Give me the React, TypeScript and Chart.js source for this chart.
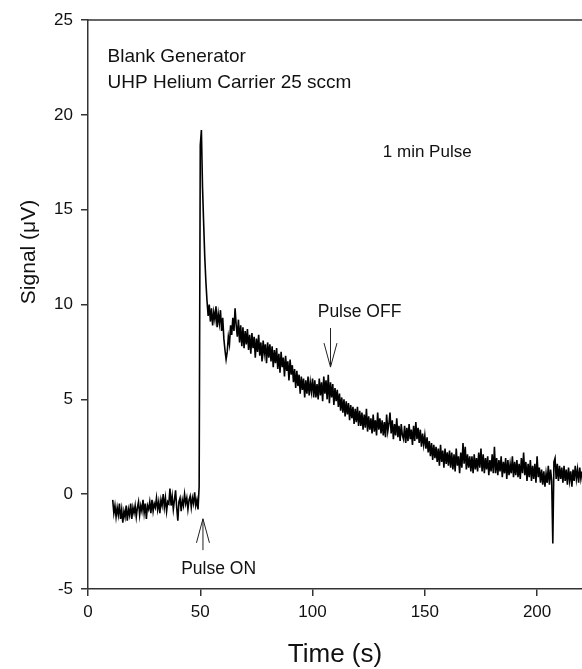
import React, { useEffect, useRef } from "react";
import { Chart, registerables } from "chart.js";

Chart.register(...registerables);

// Time axis: samples every 0.5 s starting at 11 s
const TIME_START = 11;
const TIME_STEP = 0.5;

// Signal (µV)
const SIGNAL: number[] = [
  // 11 – 20.5 s
  -0.3, -1.0, -0.6, -1.2, -0.7, -1.1, -0.5, -1.3, -0.8, -1.5, -0.9, -1.2, -0.6, -1.4, -0.8, -1.1, -0.5, -1.3, -0.7, -1.0,
  // 21 – 30.5 s
  -0.6, -1.2, -0.7, -0.4, -1.1, -0.6, -0.9, -0.3, -1.0, -0.5, -1.3, -0.6, -0.8, -0.4, -1.0, -0.3, -0.9, -0.5, -0.7, -0.2,
  // 31 – 40.5 s
  -0.8, -0.4, -1.0, -0.3, -0.6, 0.0, -0.7, -0.2, -0.9, -0.4, -0.5, 0.3, -0.6, -0.1, -0.8, -0.3, 0.2, -0.7, -1.4, -0.4,
  // 41 – 50.5 s
  -0.2, -0.9, -0.3, -0.6, 0.0, -0.5, -0.2, -0.8, -0.3, -0.1, -0.7, -0.2, -0.5, 0.1, -0.6, -0.3, -0.8, 0.4, 18.4, 19.2,
  // 51 – 60.5 s
  16.2, 14.3, 12.5, 11.2, 10.2, 9.4, 10.0, 9.1, 9.8, 8.9, 9.6, 9.2, 9.9, 8.8, 9.5, 9.0, 9.7, 8.6, 9.3, 8.2,
  // 61 – 70.5 s
  7.6, 7.1, 7.5, 8.3, 7.9, 8.9, 8.4, 9.3, 8.6, 9.8, 8.9, 8.3, 9.2, 8.0, 8.9, 7.8, 8.8, 7.7, 8.6, 7.9,
  // 71 – 80.5 s
  8.7, 7.6, 8.4, 7.4, 8.5, 7.7, 8.3, 7.2, 8.2, 7.5, 8.4, 7.3, 8.0, 7.0, 8.1, 7.4, 7.9, 6.9, 8.0, 7.2,
  // 81 – 90.5 s
  7.9, 7.0, 7.8, 6.7, 7.6, 6.9, 7.7, 6.6, 7.4, 6.4, 7.5, 6.7, 7.2, 6.2, 7.3, 6.5, 7.0, 6.0, 7.1, 6.3,
  // 91 – 100.5 s
  6.8, 5.9, 6.6, 5.6, 6.5, 5.7, 6.3, 5.3, 6.2, 5.5, 6.1, 5.1, 6.0, 5.3, 6.2, 5.2, 5.9, 5.4, 6.1, 5.1,
  // 101 – 110.5 s
  6.0, 5.1, 5.8, 5.0, 6.1, 5.2, 5.9, 4.9, 6.2, 5.3, 6.0, 5.0, 6.3, 4.8, 5.9, 5.1, 5.8, 4.7, 5.6, 4.9,
  // 111 – 120.5 s
  5.5, 4.6, 5.3, 4.4, 5.1, 4.3, 5.0, 4.1, 4.9, 4.2, 4.8, 3.9, 4.7, 4.0, 4.6, 3.7, 4.5, 3.8, 4.6, 3.6,
  // 121 – 130.5 s
  4.4, 3.6, 4.3, 3.4, 4.2, 3.5, 4.5, 3.3, 4.1, 3.4, 4.0, 3.2, 4.2, 3.3, 3.9, 3.1, 4.3, 3.4, 4.0, 3.2,
  // 131 – 140.5 s
  3.9, 3.1, 3.8, 3.0, 4.2, 3.3, 3.7, 4.3, 3.2, 3.9, 2.9, 3.7, 3.1, 4.0, 3.0, 3.6, 2.8, 3.7, 3.1, 2.9,
  // 141 – 150.5 s
  3.6, 2.7, 3.5, 2.8, 3.7, 2.9, 3.4, 2.6, 3.6, 2.8, 3.8, 2.9, 3.5, 2.7, 3.4, 2.5, 3.2, 2.6, 3.1, 2.4,
  // 151 – 160.5 s
  3.0, 2.2, 2.8, 2.0, 2.7, 1.8, 2.6, 1.9, 2.5, 1.7, 2.4, 1.5, 2.6, 1.7, 2.3, 1.4, 2.4, 1.6, 2.2, 1.5,
  // 161 – 170.5 s
  2.3, 1.4, 2.2, 1.3, 2.1, 1.2, 2.4, 1.5, 2.0, 1.1, 2.2, 1.4, 2.7, 1.6, 2.5, 1.3, 2.1, 1.4, 2.0, 1.2,
  // 171 – 180.5 s
  2.0, 1.1, 2.1, 1.3, 1.9, 1.2, 2.2, 1.4, 2.4, 1.2, 2.1, 1.1, 1.9, 1.3, 2.0, 1.0, 1.8, 1.2, 2.1, 1.1,
  // 181 – 190.5 s
  2.5, 1.1, 1.9, 1.0, 1.8, 1.2, 2.0, 0.9, 1.7, 1.1, 1.9, 0.8, 1.8, 1.0, 1.6, 1.1, 2.0, 0.9, 1.7, 1.0,
  // 191 – 200.5 s
  1.8, 0.9, 1.6, 0.8, 1.9, 1.1, 2.2, 1.0, 1.7, 0.7, 1.6, 0.9, 1.8, 0.7, 1.5, 0.8, 1.6, 0.6, 2.0, 0.9,
  // 201 – 210.5 s
  1.4, 0.6, 1.3, 0.5, 1.2, 0.4, 1.1, 0.6, 1.5, 0.5, 1.3, 0.7, -2.6, 1.7, 1.9, 0.8, 1.6, 0.7, 1.5, 0.8,
  // 211 – 220 s
  1.4, 0.6, 1.5, 0.7, 1.3, 0.5, 1.4, 0.7, 1.2, 0.4, 1.3, 0.7, 1.5, 0.8, 1.3, 0.6, 1.4, 0.8, 1.2,
];

const X_TICKS = [0, 50, 100, 150, 200];
const Y_TICKS = [-5, 0, 5, 10, 15, 20, 25];

const X_TITLE = "Time (s)";
const Y_TITLE = "Signal (\u03BCV)";

// Annotation texts: [text, time, signal] (anchor = left / baseline)
const NOTE_TEXTS: [string, number, number][] = [
  ["Blank Generator", 8.7, 22.8],
  ["UHP Helium Carrier 25 sccm", 8.7, 21.4],
];
const NOTE_PULSE_LEN: [string, number, number] = ["1 min Pulse", 131.3, 17.78];
const NOTE_OFF: [string, number, number] = ["Pulse OFF", 102.3, 9.34];
const NOTE_ON: [string, number, number] = ["Pulse ON", 41.5, -4.2];

// Arrows: [time, tail signal, tip signal]
const ARROW_OFF: [number, number, number] = [108, 8.76, 6.7];
const ARROW_ON: [number, number, number] = [51.2, -2.95, -1.3];

const FONT = "'Liberation Sans', Arial, Helvetica, sans-serif";

export default function App() {
  const ref = useRef<HTMLCanvasElement | null>(null);

  useEffect(() => {
    const canvas = ref.current;
    if (!canvas) return;
    const points = SIGNAL.map((v, i) => ({ x: TIME_START + i * TIME_STEP, y: v }));

    const annot = {
      id: "annot",
      afterDraw(chart: any) {
        const { ctx, chartArea } = chart;
        const xs = chart.scales.x;
        const ys = chart.scales.y;
        ctx.save();
        // top frame line
        ctx.strokeStyle = "#333";
        ctx.lineWidth = 1.5;
        ctx.beginPath();
        ctx.moveTo(chartArea.left, chartArea.top);
        ctx.lineTo(chartArea.right, chartArea.top);
        ctx.stroke();

        ctx.fillStyle = "#111";
        ctx.textAlign = "left";
        ctx.textBaseline = "alphabetic";
        ctx.font = `19px ${FONT}`;
        for (const [t, x, y] of NOTE_TEXTS) {
          ctx.fillText(t, xs.getPixelForValue(x), ys.getPixelForValue(y));
        }
        ctx.font = `17px ${FONT}`;
        ctx.fillText(NOTE_PULSE_LEN[0], xs.getPixelForValue(NOTE_PULSE_LEN[1]), ys.getPixelForValue(NOTE_PULSE_LEN[2]));
        ctx.font = `17.5px ${FONT}`;
        ctx.fillText(NOTE_OFF[0], xs.getPixelForValue(NOTE_OFF[1]), ys.getPixelForValue(NOTE_OFF[2]));
        ctx.fillText(NOTE_ON[0], xs.getPixelForValue(NOTE_ON[1]), ys.getPixelForValue(NOTE_ON[2]));

        // arrows
        const drawArrow = (a: [number, number, number]) => {
          const px = xs.getPixelForValue(a[0]);
          const y1 = ys.getPixelForValue(a[1]);
          const y2 = ys.getPixelForValue(a[2]);
          const dir = y2 > y1 ? 1 : -1;
          ctx.strokeStyle = "#222";
          ctx.lineWidth = 1;
          ctx.beginPath();
          ctx.moveTo(px, y1);
          ctx.lineTo(px, y2);
          ctx.moveTo(px - 6.5, y2 - dir * 24);
          ctx.lineTo(px, y2);
          ctx.lineTo(px + 6.5, y2 - dir * 24);
          ctx.stroke();
        };
        drawArrow(ARROW_OFF);
        drawArrow(ARROW_ON);

        // axis titles
        ctx.fillStyle = "#111";
        ctx.font = `26px ${FONT}`;
        ctx.textAlign = "center";
        ctx.fillText(X_TITLE, (chartArea.left + chartArea.right) / 2, 662);
        ctx.save();
        ctx.translate(35, 252);
        ctx.rotate(-Math.PI / 2);
        ctx.font = `21px ${FONT}`;
        ctx.fillText(Y_TITLE, 0, 0);
        ctx.restore();
        ctx.restore();
      },
    };

    const chart = new Chart(canvas, {
      type: "line",
      data: {
        datasets: [
          {
            data: points,
            borderColor: "#000",
            borderWidth: 1.6,
            pointRadius: 0,
            tension: 0,
            fill: false,
          },
        ],
      },
      options: {
        animation: false,
        responsive: false,
        maintainAspectRatio: false,
        layout: { padding: { top: 20, right: 0, left: 0, bottom: 0 } },
        plugins: { legend: { display: false }, tooltip: { enabled: false } },
        scales: {
          x: {
            type: "linear",
            min: 0,
            max: 220,
            afterBuildTicks: (s: any) => {
              s.ticks = X_TICKS.map((v) => ({ value: v }));
            },
            afterFit: (s: any) => {
              s.height = 80;
            },
            ticks: {
              includeBounds: false,
              font: { size: 17, family: FONT },
              color: "#111",
              padding: 6,
              maxRotation: 0,
              autoSkip: false,
            },
            grid: {
              display: true,
              drawOnChartArea: false,
              drawTicks: true,
              tickLength: 7,
              color: "#333",
              lineWidth: 1.5,
            },
            border: { display: true, color: "#333", width: 1.5 },
          },
          y: {
            type: "linear",
            min: -5,
            max: 25,
            afterBuildTicks: (s: any) => {
              s.ticks = Y_TICKS.map((v) => ({ value: v }));
            },
            afterFit: (s: any) => {
              s.width = 88;
            },
            ticks: {
              includeBounds: false,
              font: { size: 17, family: FONT },
              color: "#111",
              padding: 8,
              autoSkip: false,
            },
            grid: {
              display: true,
              drawOnChartArea: false,
              drawTicks: true,
              tickLength: 7,
              color: "#333",
              lineWidth: 1.5,
            },
            border: { display: true, color: "#333", width: 1.5 },
          },
        },
      },
      plugins: [annot],
    } as any);

    return () => chart.destroy();
  }, []);

  return (
    <div style={{ position: "absolute", left: 0, top: 0, width: 582, height: 669, background: "#fff" }}>
      <canvas ref={ref} width={582} height={669} style={{ display: "block", width: 582, height: 669 }} />
    </div>
  );
}
